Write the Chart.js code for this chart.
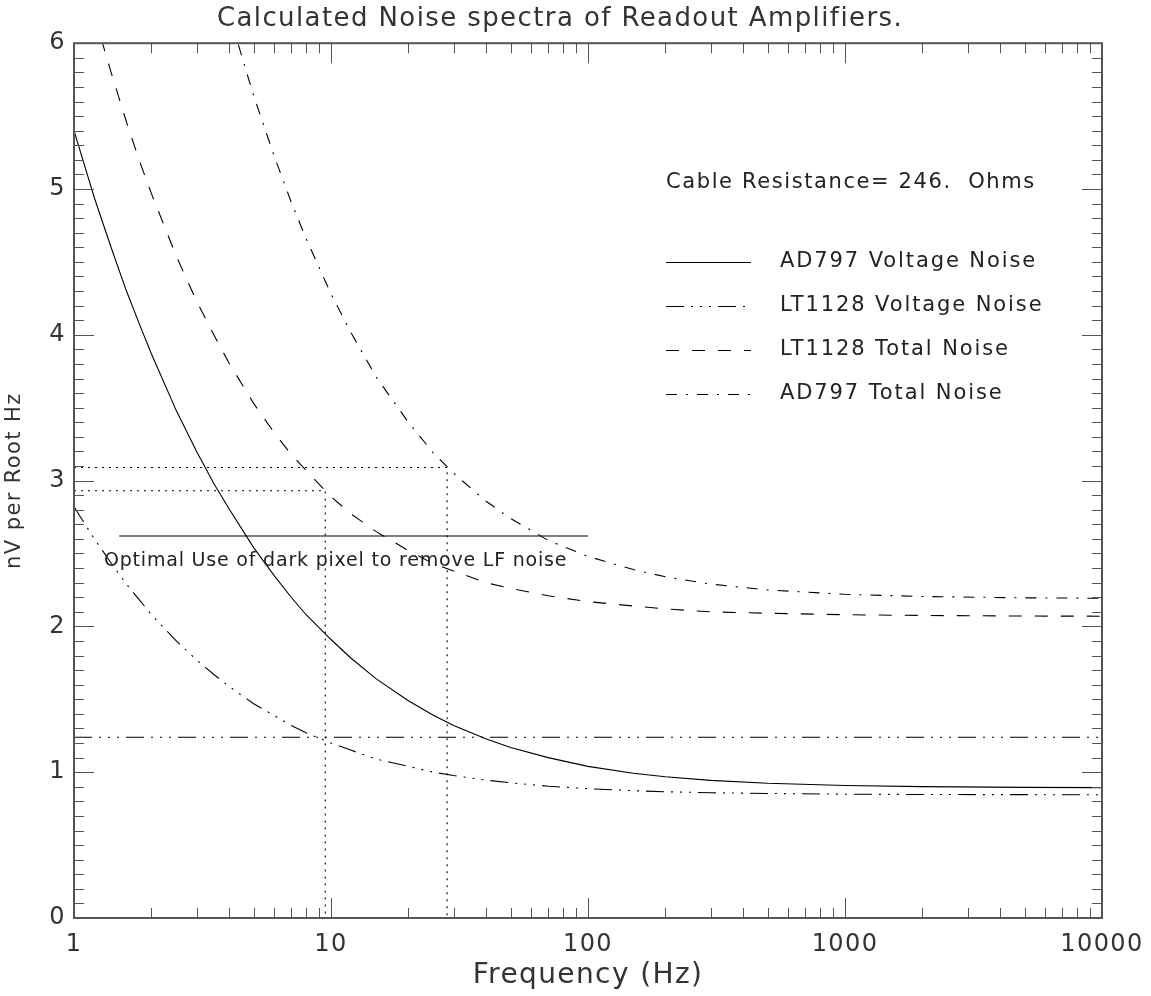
<!DOCTYPE html>
<html>
<head>
<meta charset="utf-8">
<script src="https://cdn.jsdelivr.net/npm/chart.js@4.4.1/dist/chart.umd.min.js"></script>
<style>
  body { margin: 0; background: #fff; }
  #wrap { width: 1151px; height: 996px; }
</style>
</head>
<body>
<div id="wrap"><canvas id="chart-area" width="1151" height="996"></canvas></div>
<script>
var freqs = [1, 1.2, 1.4, 1.6, 1.8, 2, 2.5, 3, 3.5, 4, 5, 6, 7, 8, 10, 12, 15, 20, 25, 30,
  40, 50, 70, 100, 150, 200, 300, 500, 1000, 2000, 5000, 10000];

var ad797Voltage = [5.40, 4.94, 4.59, 4.30, 4.07, 3.87, 3.48, 3.20, 2.98, 2.81, 2.54, 2.35, 2.20, 2.08,
  1.91, 1.78, 1.64, 1.49, 1.39, 1.32, 1.23, 1.17, 1.10, 1.04, 0.993, 0.969, 0.944, 0.924, 0.909, 0.901, 0.896, 0.894];
var lt1128Voltage = [2.82, 2.60, 2.43, 2.29, 2.18, 2.08, 1.90, 1.77, 1.67, 1.59, 1.47, 1.39, 1.32, 1.27,
  1.20, 1.15, 1.09, 1.04, 1.00, 0.977, 0.946, 0.927, 0.904, 0.887, 0.873, 0.866, 0.859, 0.854, 0.849, 0.847, 0.846, 0.845];
var lt1128Total = [6.72, 6.19, 5.79, 5.46, 5.19, 4.97, 4.54, 4.23, 4.00, 3.81, 3.53, 3.33, 3.18, 3.07,
  2.89, 2.77, 2.65, 2.52, 2.43, 2.38, 2.30, 2.26, 2.21, 2.17, 2.14, 2.12, 2.10, 2.09, 2.08, 2.075, 2.071, 2.07];
var ad797Total = [11.83, 10.83, 10.06, 9.44, 8.93, 8.50, 7.67, 7.06, 6.59, 6.21, 5.64, 5.23, 4.91, 4.66,
  4.28, 4.01, 3.71, 3.40, 3.19, 3.05, 2.86, 2.74, 2.59, 2.48, 2.39, 2.34, 2.29, 2.25, 2.22, 2.205, 2.196, 2.193];

// LT1128 voltage noise floor line and the "optimal use" marker line
var floorFreqs = [1, 10000];
var floorLevel = 1.24;
var optimalFreqs = [1.5, 100];
var optimalLevel = 2.62;

// dotted guide lines: level read at a corner frequency, then down to zero
var guideAFreq = 9.5, guideALevel = 2.93;
var guideBFreq = 28.3, guideBLevel = 3.09;

var xDecades = [1, 10, 100, 1000, 10000];
var cableText = 'Cable Resistance= 246.  Ohms';
var optimalText = 'Optimal Use of dark pixel to remove LF noise';

var FONT = "'DejaVu Sans', sans-serif";
var DASH_DOT3 = [18, 7, 2, 7, 2, 7, 2, 7];
var DASHED = [13, 13];
var DASH_DOT = [11, 9, 2, 9];
var DOTTED = [2, 5];

function pairs(xs, ys) {
  return xs.map(function(x, i) { return {x: x, y: ys[i]}; });
}

function lineSet(label, data, dash, inLegend) {
  return {
    label: label,
    data: data,
    borderColor: '#000',
    borderWidth: 1.1,
    borderDash: dash,
    pointRadius: 0,
    fill: false,
    tension: 0,
    inLegend: inLegend
  };
}

var xTickValues = [];
xDecades.forEach(function(d, i) {
  if (i === xDecades.length - 1) { xTickValues.push(d); return; }
  for (var m = 1; m < 10; m++) xTickValues.push(d * m);
});

// the plot's lettering is wide, so space the glyphs out a little
var spacing = {
  id: 'spacing',
  beforeLayout: function(chart) { chart.ctx.letterSpacing = '1.4px'; },
  beforeDraw: function(chart) { chart.ctx.letterSpacing = '1.4px'; }
};

// inward ticks on all four sides + frame, like the original plot
var frameTicks = {
  id: 'frameTicks',
  afterDatasetsDraw: function(chart) {
    var ctx = chart.ctx, a = chart.chartArea, x = chart.scales.x, y = chart.scales.y;
    ctx.save();
    ctx.strokeStyle = '#555';
    ctx.lineWidth = 1;
    ctx.beginPath();
    xTickValues.forEach(function(v) {
      var px = Math.round(x.getPixelForValue(v)) + 0.5;
      var len = xDecades.indexOf(v) >= 0 ? 20 : 10;
      ctx.moveTo(px, a.bottom); ctx.lineTo(px, a.bottom - len);
      ctx.moveTo(px, a.top); ctx.lineTo(px, a.top + len);
    });
    for (var i = 0; i <= 60; i++) {
      var py = Math.round(y.getPixelForValue(i / 10)) + 0.5;
      var len = i % 10 === 0 ? 20 : 10;
      ctx.moveTo(a.left, py); ctx.lineTo(a.left + len, py);
      ctx.moveTo(a.right, py); ctx.lineTo(a.right - len, py);
    }
    ctx.stroke();
    ctx.lineWidth = 2;
    ctx.strokeRect(a.left, a.top, a.right - a.left, a.bottom - a.top);
    ctx.restore();
  }
};

// text block and line-style legend inside the plot
var notes = {
  id: 'notes',
  afterDraw: function(chart) {
    var ctx = chart.ctx, a = chart.chartArea;
    ctx.save();
    ctx.fillStyle = '#222';
    ctx.textBaseline = 'middle';
    ctx.font = '21px ' + FONT;
    ctx.letterSpacing = '1.6px';
    var lx = a.left + 592;
    ctx.fillText(cableText, lx, 183);
    ctx.letterSpacing = '1.9px';
    var row = 0;
    chart.data.datasets.forEach(function(ds) {
      if (!ds.inLegend) return;
      var cy = 262 + row * 44;
      ctx.strokeStyle = '#000';
      ctx.lineWidth = 1.1;
      ctx.setLineDash(ds.borderDash);
      ctx.beginPath();
      ctx.moveTo(lx, cy + 0.5); ctx.lineTo(lx + 85, cy + 0.5);
      ctx.stroke();
      ctx.setLineDash([]);
      ctx.fillText(ds.label, lx + 114, cy);
      row++;
    });
    ctx.font = '19px ' + FONT;
    ctx.letterSpacing = '0.8px';
    ctx.fillText(optimalText, a.left + 30, 561);
    ctx.restore();
  }
};

var config = {
  type: 'line',
  data: {
    datasets: [
      lineSet('AD797 Voltage Noise', pairs(freqs, ad797Voltage), [], true),
      lineSet('LT1128 Voltage Noise', pairs(freqs, lt1128Voltage), DASH_DOT3, true),
      lineSet('LT1128 Total Noise', pairs(freqs, lt1128Total), DASHED, true),
      lineSet('AD797 Total Noise', pairs(freqs, ad797Total), DASH_DOT, true),
      lineSet('floor', pairs(floorFreqs, [floorLevel, floorLevel]), DASH_DOT3, false),
      lineSet('optimal', pairs(optimalFreqs, [optimalLevel, optimalLevel]), [], false),
      lineSet('guideA', pairs([1, guideAFreq, guideAFreq], [guideALevel, guideALevel, 0]), DOTTED, false),
      lineSet('guideB', pairs([1, guideBFreq, guideBFreq], [guideBLevel, guideBLevel, 0]), DOTTED, false)
    ]
  },
  options: {
    responsive: false,
    animation: false,
    layout: { padding: { left: 18, right: 49, top: 0, bottom: 0 } },
    plugins: {
      legend: { display: false },
      tooltip: { enabled: false },
      title: {
        display: true,
        text: 'Calculated Noise spectra of Readout Amplifiers.',
        color: '#333',
        font: { family: FONT, size: 26, weight: 'normal' },
        padding: { top: 4, bottom: 8 }
      }
    },
    scales: {
      x: {
        type: 'logarithmic',
        min: 1,
        max: 10000,
        grid: { display: false, drawTicks: false },
        border: { display: false },
        afterBuildTicks: function(scale) {
          scale.ticks = xTickValues.map(function(v) { return {value: v}; });
        },
        afterFit: function(scale) {
          scale.height = 78;
          scale.paddingLeft = 0;
          scale.paddingRight = 0;
        },
        ticks: {
          autoSkip: false,
          maxRotation: 0,
          padding: 12,
          color: '#333',
          font: { family: FONT, size: 24 },
          callback: function(v) { return xDecades.indexOf(v) >= 0 ? String(v) : ''; }
        },
        title: {
          display: true,
          text: 'Frequency (Hz)',
          color: '#333',
          font: { family: FONT, size: 28 },
          padding: { top: 0, bottom: 3 }
        }
      },
      y: {
        min: 0,
        max: 6,
        grid: { display: false, drawTicks: false },
        border: { display: false },
        afterFit: function(scale) { scale.width = 56; },
        ticks: {
          stepSize: 1,
          padding: 8,
          color: '#333',
          font: { family: FONT, size: 24 }
        },
        title: {
          display: true,
          text: 'nV per Root Hz',
          color: '#333',
          font: { family: FONT, size: 21 },
          padding: { top: -16, bottom: 0 }
        }
      }
    }
  },
  plugins: [spacing, frameTicks, notes]
};

window.onload = function() {
  var ctx = document.getElementById('chart-area').getContext('2d');
  window.noiseChart = new Chart(ctx, config);
};
</script>
</body>
</html>
